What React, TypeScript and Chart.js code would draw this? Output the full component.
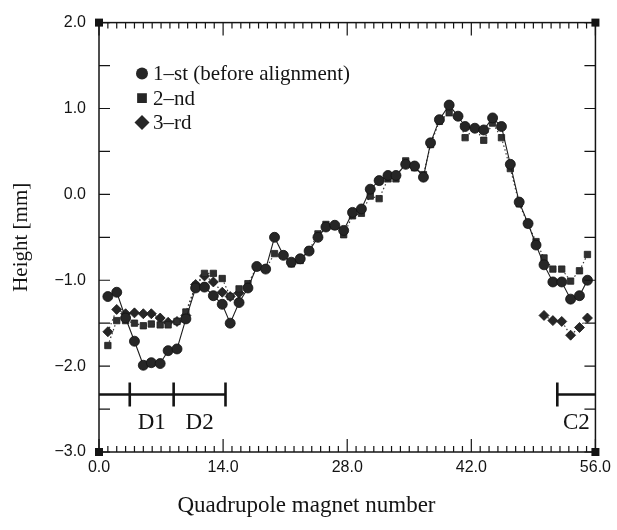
import React, { useEffect, useRef } from 'react';
import { Chart, registerables } from 'chart.js';

Chart.register(...registerables);

// Quadrupole magnet positions
const magnetPos = [1.0, 2.0, 3.0, 4.0, 5.0, 5.9, 6.9, 7.8, 8.8, 9.8, 10.9, 11.9, 12.9, 13.9, 14.8, 15.8, 16.8, 17.8, 18.8, 19.8, 20.8, 21.7, 22.7, 23.7, 24.7, 25.6, 26.6, 27.6, 28.6, 29.6, 30.6, 31.6, 32.6, 33.5, 34.6, 35.6, 36.6, 37.4, 38.4, 39.5, 40.5, 41.3, 42.4, 43.4, 44.4, 45.4, 46.4, 47.4, 48.4, 49.3, 50.2, 51.2, 52.2, 53.2, 54.2, 55.1];

const firstSurvey = [-1.19, -1.14, -1.44, -1.71, -1.99, -1.96, -1.97, -1.82, -1.80, -1.45, -1.09, -1.08, -1.18, -1.28, -1.50, -1.26, -1.09, -0.84, -0.87, -0.50, -0.71, -0.79, -0.75, -0.66, -0.50, -0.38, -0.36, -0.42, -0.21, -0.17, 0.06, 0.16, 0.22, 0.22, 0.35, 0.33, 0.20, 0.60, 0.87, 1.04, 0.91, 0.79, 0.77, 0.75, 0.89, 0.79, 0.35, -0.09, -0.34, -0.59, -0.82, -1.02, -1.02, -1.22, -1.18, -1.00];

const secondSurvey = [-1.76, -1.47, -1.47, -1.50, -1.53, -1.51, -1.52, -1.52, -1.48, -1.37, -1.06, -0.92, -0.92, -0.98, -1.19, -1.10, -1.04, -0.85, -0.87, -0.69, -0.71, -0.81, -0.77, -0.65, -0.46, -0.35, -0.37, -0.47, -0.25, -0.22, -0.02, -0.05, 0.18, 0.18, 0.39, 0.31, 0.23, 0.58, 0.85, 0.95, 0.91, 0.66, 0.77, 0.63, 0.83, 0.66, 0.30, -0.11, -0.35, -0.55, -0.74, -0.87, -0.87, -1.01, -0.89, -0.70];

const thirdSurvey = [-1.60, -1.34, -1.39, -1.38, -1.39, -1.39, -1.44, -1.49, -1.48, -1.41, -1.05, -0.95, -1.02, -1.14, -1.19, -1.15,
  null, null, null, null, null, null, null, null, null, null, null, null, null, null, null, null, null,
  null, null, null, null, null, null, null, null, null, null, null, null, null, null, null, null, null,
  -1.41, -1.47, -1.48, -1.64, -1.55, -1.44];

const seriesLabels = ['1–st (before alignment)', '2–nd', '3–rd'];
const seriesStyles = ['circle', 'rect', 'rectRot'];

const xTickValues = [0, 14, 28, 42, 56];
const yTickValues = [-3, -2, -1, 0, 1, 2];

// Machine sections marked under the curves
const sectionNames = ['D1', 'D2', 'C2'];
const sectionStart = [3.47, 8.42, 51.7];
const sectionEnd = [8.42, 14.27, 56];
const sectionLineFrom = [0, 51.7];
const sectionLineTo = [14.27, 56];
const sectionLevel = -2.33;
const sectionLabelLevel = -2.66;

const INK = '#141414';
const MARK = '#262626';
const SERIF = '"Liberation Serif", "Times New Roman", serif';
const SANS = '"Liberation Sans", Arial, sans-serif';

function drawMarker(ctx: CanvasRenderingContext2D, style: string, x: number, y: number, r: number) {
  ctx.beginPath();
  if (style === 'circle') {
    ctx.arc(x, y, r, 0, Math.PI * 2);
  } else if (style === 'rect') {
    ctx.rect(x - r * 0.75, y - r * 0.75, r * 1.5, r * 1.5);
  } else {
    ctx.moveTo(x - r, y);
    ctx.lineTo(x, y - r);
    ctx.lineTo(x + r, y);
    ctx.lineTo(x, y + r);
    ctx.closePath();
  }
  ctx.fill();
}

const decorPlugin = {
  id: 'decor',
  afterDatasetsDraw(chart: any) {
    const { ctx, chartArea: a, scales } = chart;
    const xs = scales.x;
    const ys = scales.y;
    ctx.save();
    ctx.strokeStyle = INK;
    ctx.fillStyle = INK;

    // frame
    ctx.lineWidth = 1.5;
    ctx.strokeRect(a.left, a.top, a.right - a.left, a.bottom - a.top);

    // inward ticks, left/right every 0.5
    ctx.lineWidth = 1.2;
    ctx.beginPath();
    for (let v = ys.min; v <= ys.max + 1e-9; v += 0.5) {
      const py = ys.getPixelForValue(v);
      ctx.moveTo(a.left, py);
      ctx.lineTo(a.left + 11, py);
      ctx.moveTo(a.right, py);
      ctx.lineTo(a.right - 11, py);
    }
    // top/bottom every 1, longer at labelled values
    for (let v = xs.min; v <= xs.max + 1e-9; v += 1) {
      const px = xs.getPixelForValue(v);
      const len = xTickValues.includes(v) ? 13 : 6;
      ctx.moveTo(px, a.bottom);
      ctx.lineTo(px, a.bottom - len);
      ctx.moveTo(px, a.top);
      ctx.lineTo(px, a.top + len);
    }
    ctx.stroke();

    // corner squares
    const cs = 8;
    [[a.left, a.top], [a.right, a.top], [a.left, a.bottom], [a.right, a.bottom]].forEach(([cx, cy]) => {
      ctx.fillRect(cx - cs / 2, cy - cs / 2, cs, cs);
    });

    // section bars
    const barY = ys.getPixelForValue(sectionLevel);
    ctx.lineWidth = 2.6;
    ctx.beginPath();
    sectionLineFrom.forEach((f, i) => {
      ctx.moveTo(xs.getPixelForValue(f), barY);
      ctx.lineTo(xs.getPixelForValue(sectionLineTo[i]), barY);
    });
    const edges = new Set<number>();
    sectionStart.forEach((s, i) => {
      edges.add(s);
      if (sectionEnd[i] < xs.max) edges.add(sectionEnd[i]);
    });
    edges.forEach((e) => {
      const px = xs.getPixelForValue(e);
      ctx.moveTo(px, barY - 12);
      ctx.lineTo(px, barY + 12);
    });
    ctx.stroke();

    ctx.font = `23px ${SERIF}`;
    ctx.textAlign = 'center';
    ctx.textBaseline = 'middle';
    const labelY = ys.getPixelForValue(sectionLabelLevel);
    sectionNames.forEach((n, i) => {
      const cx = xs.getPixelForValue((sectionStart[i] + sectionEnd[i]) / 2);
      ctx.fillText(n, cx, labelY);
    });

    // legend
    ctx.font = `21px ${SERIF}`;
    ctx.textAlign = 'left';
    const legX = a.left + 43;
    const legY0 = a.top + 51;
    const legSizes = [6, 6.5, 7.5];
    chart.data.datasets.forEach((ds: any, i: number) => {
      const y = legY0 + i * 24.5;
      ctx.fillStyle = MARK;
      drawMarker(ctx, seriesStyles[i], legX, y, legSizes[i]);
      ctx.fillStyle = INK;
      ctx.fillText(ds.label, legX + 11, y + 1);
    });

    // x-axis title centred on the page
    ctx.font = `23px ${SERIF}`;
    ctx.textAlign = 'center';
    ctx.fillText('Quadrupole magnet number', chart.width / 2 - 2, 506);
    ctx.restore();
  },
};

export default function App() {
  const ref = useRef<HTMLCanvasElement | null>(null);

  useEffect(() => {
    if (!ref.current) return;
    const mk = (vals: (number | null)[]) => magnetPos.map((x, i) => ({ x, y: vals[i] }));
    const chart = new Chart(ref.current, {
      type: 'line',
      data: {
        datasets: [
          {
            label: seriesLabels[0],
            data: mk(firstSurvey),
            borderColor: '#1e1e1e',
            borderWidth: 1.1,
            pointStyle: seriesStyles[0] as any,
            pointRadius: 5,
            pointBackgroundColor: MARK,
            pointBorderColor: '#111',
            pointBorderWidth: 0.8,
            tension: 0,
          },
          {
            label: seriesLabels[1],
            data: mk(secondSurvey),
            borderColor: '#3a3a3a',
            borderWidth: 1.2,
            borderDash: [1.5, 2.5],
            pointStyle: seriesStyles[1] as any,
            pointRadius: 4.5,
            pointBackgroundColor: '#303030',
            pointBorderColor: '#202020',
            pointBorderWidth: 0.8,
            tension: 0,
          },
          {
            label: seriesLabels[2],
            data: mk(thirdSurvey),
            borderColor: '#3a3a3a',
            borderWidth: 1.2,
            borderDash: [1.5, 2.5],
            pointStyle: seriesStyles[2] as any,
            pointRadius: 5,
            pointBackgroundColor: '#262626',
            pointBorderColor: '#161616',
            pointBorderWidth: 0.8,
            spanGaps: false,
            tension: 0,
          },
        ],
      },
      options: {
        animation: false,
        responsive: false,
        maintainAspectRatio: false,
        layout: { padding: { top: 19, right: 20, left: 0, bottom: 0 } },
        plugins: {
          legend: { display: false },
          tooltip: { enabled: false },
        },
        scales: {
          x: {
            type: 'linear',
            min: 0,
            max: 56,
            afterFit: (s: any) => { s.height = 78; },
            afterBuildTicks: (s: any) => { s.ticks = xTickValues.map((v) => ({ value: v })); },
            grid: { display: false, drawTicks: false },
            border: { display: false },
            ticks: {
              padding: 6,
              maxRotation: 0,
              autoSkip: false,
              color: INK,
              font: { family: SANS, size: 16 },
              callback: (v: any) => Number(v).toFixed(1),
            },
          },
          y: {
            type: 'linear',
            min: -3,
            max: 2,
            afterFit: (s: any) => { s.width = 99; },
            afterBuildTicks: (s: any) => { s.ticks = yTickValues.map((v) => ({ value: v })); },
            grid: { display: false, drawTicks: false },
            border: { display: false },
            ticks: {
              padding: 13,
              color: INK,
              font: { family: SANS, size: 16 },
              callback: (v: any) => (Number(v) < 0 ? '−' : '') + Math.abs(Number(v)).toFixed(1),
            },
            title: {
              display: true,
              text: 'Height [mm]',
              color: INK,
              font: { family: SERIF, size: 21 },
              padding: { top: 9, bottom: 0 },
            },
          },
        },
      },
      plugins: [decorPlugin],
    });
    return () => chart.destroy();
  }, []);

  return (
    <div style={{ position: 'fixed', left: 0, top: 0, width: 617, height: 530, background: '#fff' }}>
      <canvas ref={ref} width={617} height={530} style={{ width: 617, height: 530, display: 'block' }} />
    </div>
  );
}
